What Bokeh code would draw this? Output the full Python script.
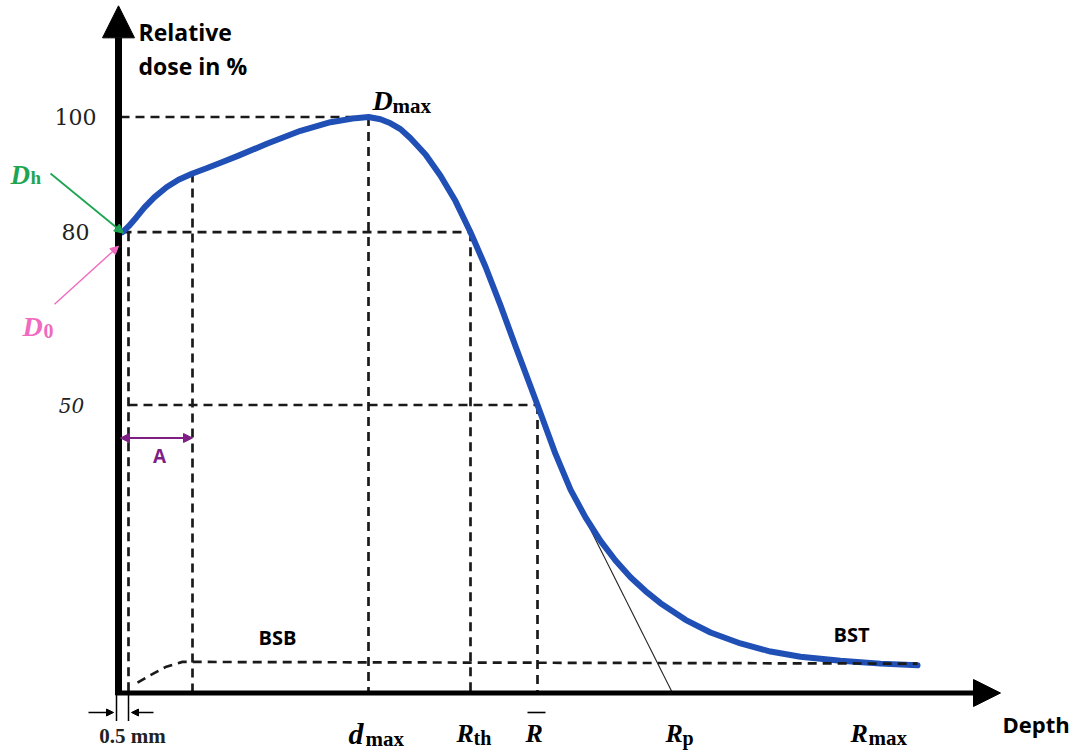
from bokeh.plotting import figure
from bokeh.models import Range1d, Arrow, NormalHead
from bokeh.core.properties import value
from bokeh.embed import file_html
from bokeh.resources import INLINE

# ---------------- data (schematic electron depth-dose curve) ----------------
depth = [0.2, 0.5, 0.9, 1.3, 1.8, 2.4, 3.0, 3.7, 4.4, 5.2,
         6.0, 7.45, 9.1, 10.6, 11.85, 12.5, 13.1, 13.6, 14.1, 14.6,
         15.35, 16.1, 16.85, 17.6, 18.35, 19.1, 19.85, 20.95, 21.85, 22.6,
         23.35, 24.1, 24.85, 25.6, 26.35, 27.1, 28.35, 29.6, 31.1, 32.6,
         34.1, 36.1, 38.1, 39.95]
dose = [80, 81.0, 82.6, 84.3, 86.1, 87.8, 89.1, 90.2, 91.1, 92.2,
        93.3, 95.4, 97.6, 99.1, 99.8, 100, 99.6, 98.9, 97.9, 96.3,
        93.5, 89.8, 85.4, 80, 74.0, 67.3, 60.2, 50, 41.5, 35.3,
        30.5, 26.4, 23.0, 20.1, 17.7, 15.6, 12.7, 10.5, 8.6, 7.2,
        6.3, 5.6, 5.1, 4.8]

# bremsstrahlung background (BSB / BST) dashed line
bsb_depth = [0.95, 1.6, 2.35, 3.2, 39.95]
bsb_dose = [1.8, 3.1, 4.5, 5.4, 5.1]

# tangent through the steepest part of the fall-off -> practical range
tangent_depth = [22.6, 27.7]
tangent_dose = [35.3, 0.0]

# characteristic depths
d_surf = 0.5      # 0.5 mm
d_A = 3.7
dose_A = 90.2
d_max = 12.5
R_th = 17.6
R_bar = 20.95
R_p = 27.7
R_max = 37.6
d_D0 = 0.2

tick_values = [100, 80]
tick_labels = ["100", "80"]
tick50_value = 50
tick50_label = "50"

x_axis_end = 44.1
y_axis_end = 119.3

# ---------------- figure ----------------
SX = 20.0   # px per depth unit
SY = 5.76   # px per % dose


def ox(px):
    return px / SX


def oy(px):
    return px / SY


W, H = 1070, 750
p = figure(width=W, height=H, x_range=Range1d(-118 / SX, (W - 118) / SX),
           y_range=Range1d((692.5 - H) / SY, 692.5 / SY), output_backend="svg",
           toolbar_location=None, min_border=0,
           x_axis_type=None, y_axis_type=None)
p.grid.visible = False
p.outline_line_color = None
p.background_fill_color = "white"

DASH = dict(line_color="#1a1a1a", line_width=2.7, line_dash="9 6")

# reference dashed lines
hx0 = [0.1, d_D0, d_surf]
hx1 = [d_max, R_th, R_bar]
hy = [100, 80, 50]
p.segment(x0=hx0, y0=hy, x1=hx1, y1=hy, **DASH)
vx = [d_surf, d_A, d_max, R_th, R_bar]
vy_top = [80, dose_A, 100, 80, 50]
p.segment(x0=vx, y0=vy_top, x1=vx, y1=[0] * len(vx), **DASH)

# tangent (thin)
p.line(tangent_depth, tangent_dose, line_color="#222222", line_width=1.1)

# main curve
p.line(depth, dose, line_color="#2050B5", line_width=6, line_join="round",
       line_cap="round")

# background line (drawn over curve)
p.line(bsb_depth, bsb_dose, **DASH)

# axes with arrow heads
p.add_layout(Arrow(x_start=0, y_start=-oy(2), x_end=0, y_end=y_axis_end,
                   line_width=7, line_color="black",
                   end=NormalHead(size=32, fill_color="black", line_color="black")))
p.add_layout(Arrow(x_start=-ox(3), y_start=0, x_end=x_axis_end, y_end=0,
                   line_width=5, line_color="black",
                   end=NormalHead(size=27, fill_color="black", line_color="black")))

# tick labels
p.text(x=[-ox(43)] * 2, y=tick_values, text=tick_labels,
       text_font=value("DejaVu Serif"), text_font_size="22px",
       text_align="center", text_baseline="middle", text_color="#222222")
p.text(x=[-ox(47)], y=[tick50_value], text=[tick50_label],
       text_font=value("DejaVu Serif"), text_font_style="italic",
       text_font_size="20px", text_align="center", text_baseline="middle",
       text_color="#222222")

SANS = value("Open Sans")
SERIF = value("Liberation Serif")

# axis titles
p.text(x=[ox(20)] * 2, y=[100 + oy(85.5), 100 + oy(51.5)],
       text=["Relative", "dose in %"], text_font=SANS, text_font_style="bold",
       text_font_size="23px", text_align="left", text_baseline="alphabetic",
       text_color="black")
p.text(x=[x_axis_end + ox(2)], y=[-oy(30.5)], text=["Depth"], text_font=SANS,
       text_font_style="bold", text_font_size="22px", text_align="left",
       text_baseline="alphabetic", text_color="black")


def math_label(x, y, main, sub, color="black", main_size=27, sub_size=21,
               sub_dx=18, sub_dy=6):
    p.text(x=[x], y=[y], text=[main], text_font=SERIF,
           text_font_style="bold italic", text_font_size=f"{main_size}px",
           text_align="left", text_baseline="alphabetic", text_color=color)
    if sub:
        p.text(x=[x + ox(sub_dx)], y=[y - oy(sub_dy)], text=[sub],
               text_font=SERIF, text_font_style="bold",
               text_font_size=f"{sub_size}px", text_align="left",
               text_baseline="alphabetic", text_color=color)


# D_max above the peak
math_label(d_max + ox(4), 100 + oy(16.5), "D", "max", main_size=28,
           sub_dx=20, sub_dy=5)

# depth labels under the axis
base = -oy(40)
math_label(d_max - ox(20), base, "d", "max", main_size=30, sub_dx=17, sub_dy=6)
math_label(R_th - ox(14), base, "R", "th", main_size=26, sub_size=20,
           sub_dx=17, sub_dy=5)
math_label(R_bar - ox(12), base, "R", None, main_size=26)
p.segment(x0=[R_bar - ox(10)], y0=[-oy(19.5)], x1=[R_bar + ox(8)],
          y1=[-oy(19.5)], line_color="black", line_width=1.6)
math_label(R_p - ox(7), base, "R", "p", main_size=26, sub_size=20,
           sub_dx=17, sub_dy=5)
math_label(R_max - ox(20), base, "R", "max", main_size=26, sub_size=21,
           sub_dx=18, sub_dy=5)

# D_h / D_0 annotations
GREEN = "#1EA552"
PINK = "#F06ABF"
math_label(d_D0 - ox(112), 80 + oy(57.7), "D", "h", color=GREEN,
           main_size=27, sub_size=19, sub_dx=20, sub_dy=3)
math_label(d_D0 - ox(100), 80 - oy(94.3), "D", "0", color=PINK,
           main_size=28, sub_size=20, sub_dx=21, sub_dy=4)
p.add_layout(Arrow(x_start=d_D0 - ox(72), y_start=80 + oy(58.7),
                   x_end=d_D0 + ox(1), y_end=80 - oy(1),
                   line_color=GREEN, line_width=1.8,
                   end=NormalHead(size=9, fill_color=GREEN, line_color=GREEN)))
p.add_layout(Arrow(x_start=d_D0 - ox(68), y_start=80 - oy(72),
                   x_end=d_D0 - ox(4), y_end=80 - oy(14),
                   line_color=PINK, line_width=1.4,
                   end=NormalHead(size=8, fill_color=PINK, line_color=PINK)))

# A distance arrow
PURPLE = "#7F1F86"
yA = 50 - oy(33)
p.add_layout(Arrow(x_start=ox(2), y_start=yA, x_end=d_A, y_end=yA,
                   line_color=PURPLE, line_width=2.2,
                   start=NormalHead(size=9, fill_color=PURPLE, line_color=PURPLE),
                   end=NormalHead(size=9, fill_color=PURPLE, line_color=PURPLE)))
p.text(x=[d_A / 2 + ox(4)], y=[50 - oy(51)], text=["A"], text_font=SANS,
       text_font_style="bold", text_font_size="19px", text_align="center",
       text_baseline="middle", text_color=PURPLE)

# 0.5 mm marker
p.segment(x0=[-ox(2), d_surf], y0=[0, 0], x1=[-ox(2), d_surf],
          y1=[-oy(28), -oy(28)], line_color="black", line_width=1.5)
p.add_layout(Arrow(x_start=-ox(30), y_start=-oy(19.5), x_end=-ox(5),
                   y_end=-oy(19.5), line_color="black", line_width=1.3,
                   end=NormalHead(size=7, fill_color="black", line_color="black")))
p.add_layout(Arrow(x_start=d_surf + ox(25), y_start=-oy(19.5),
                   x_end=d_surf + ox(3), y_end=-oy(19.5), line_color="black",
                   line_width=1.3,
                   end=NormalHead(size=7, fill_color="black", line_color="black")))
p.text(x=[d_surf / 2 + ox(9)], y=[-oy(43)], text=["0.5 mm"], text_font=SERIF,
       text_font_style="bold", text_font_size="21px", text_align="center",
       text_baseline="alphabetic", text_color="#222222")

# BSB / BST labels
p.text(x=[7.95, 36.65], y=[bsb_dose[3] + oy(24), bsb_dose[4] + oy(29)],
       text=["BSB", "BST"], text_font=SANS, text_font_style="bold",
       text_font_size="20px", text_align="center", text_baseline="middle",
       text_color="black")

open("out.html", "w").write(file_html(p, INLINE))
